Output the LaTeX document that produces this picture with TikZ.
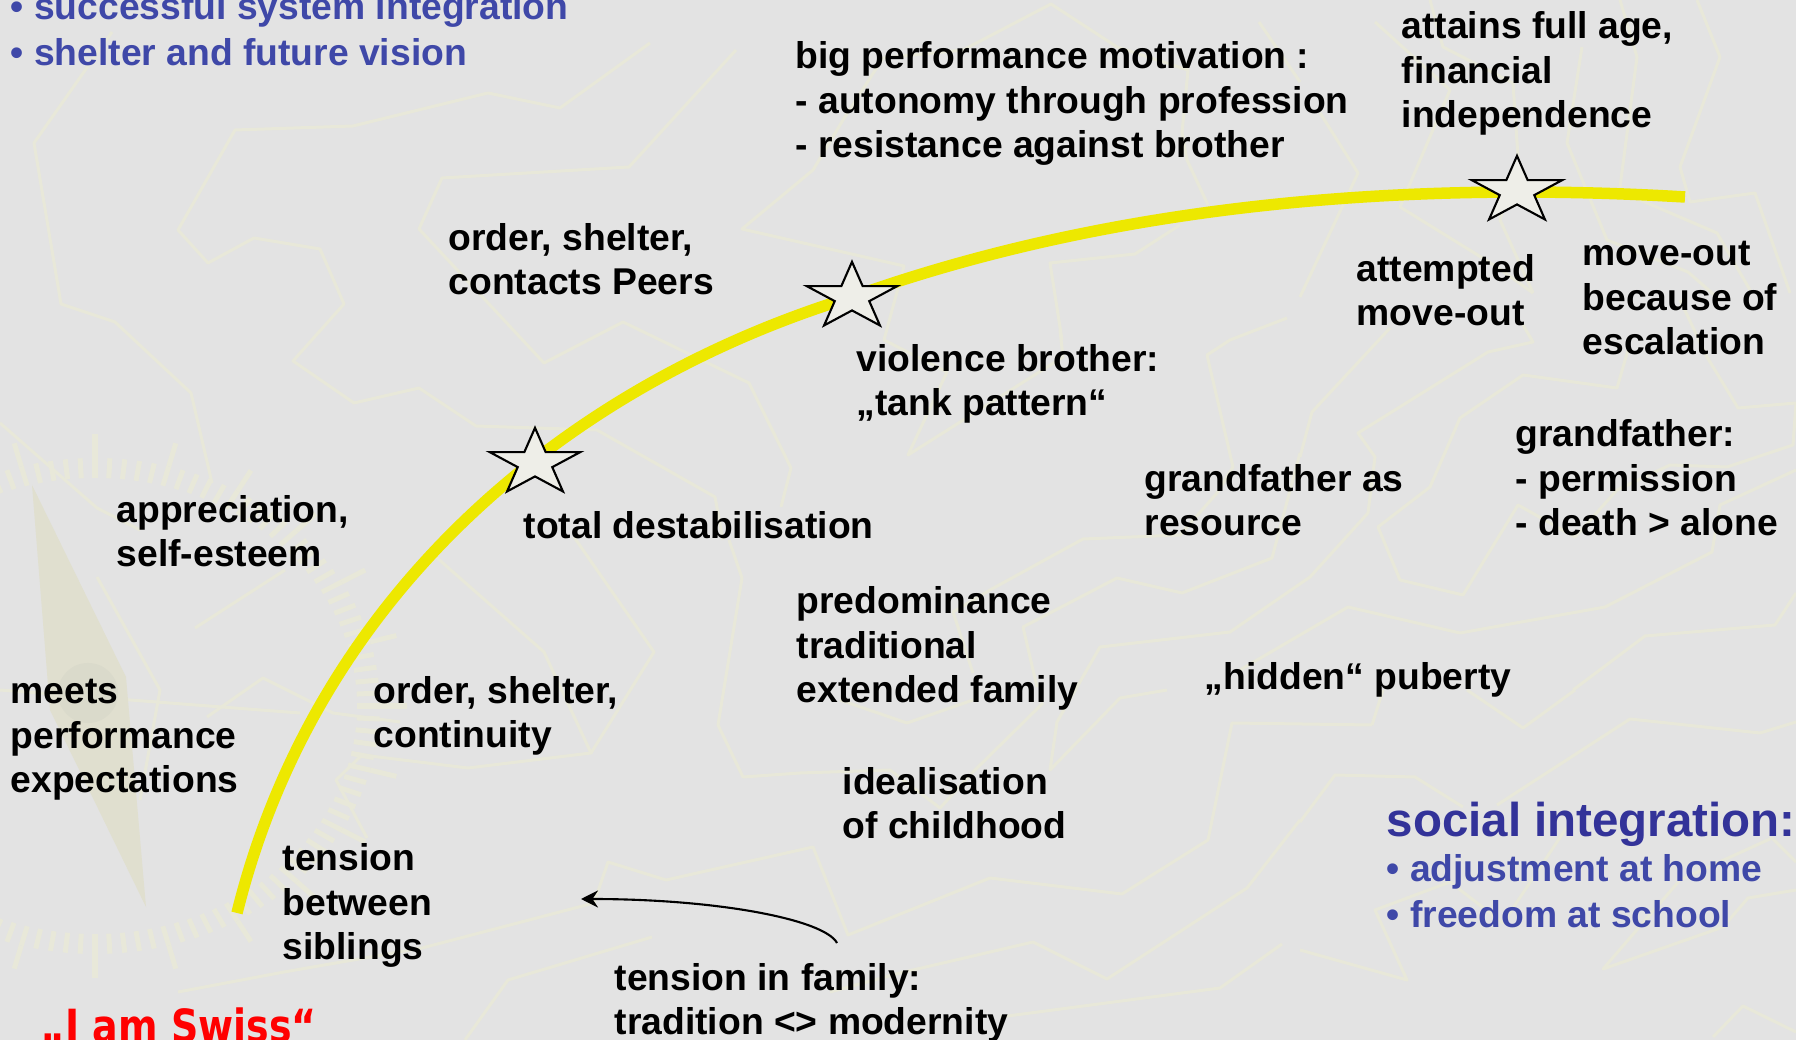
\documentclass[tikz,border=0pt]{standalone}
\usepackage{fontspec}
\setmainfont{Liberation Sans}
\newfontfamily\swissfont[FakeStretch=0.83]{DejaVu Sans}
\usepackage{xcolor}
\usetikzlibrary{shapes.geometric,arrows.meta,positioning}
\definecolor{slidegray}{RGB}{227,227,227}
\definecolor{mapbeige}{RGB}{232,232,217}
\definecolor{needlebeige}{RGB}{224,223,207}
\definecolor{hubbeige}{RGB}{218,218,203}
\definecolor{curveyellow}{RGB}{237,232,0}
\definecolor{starwhite}{RGB}{238,238,232}
\definecolor{bulletblue}{RGB}{63,72,168}
\definecolor{headblue}{RGB}{51,51,153}

\begin{document}
\begin{tikzpicture}[
    x=0.01cm, y=-0.01cm,
    note/.style={anchor=base west, align=left, inner sep=0pt, xshift=-0.01cm, yshift=-0.022cm, font=\fontsize{10.6}{12.55}\selectfont\bfseries},
    bluenote/.style={note, text=bulletblue},
    headnote/.style={note, text=headblue, font=\fontsize{13.5}{16}\selectfont\bfseries},
    swissnote/.style={note, text=red, font=\fontsize{13}{15}\selectfont\bfseries\swissfont},
    mapline/.style={draw=mapbeige, line width=0.03cm, line join=round},
    tick/.style={draw=mapbeige, line width=0.05cm},
    turnstar/.style={star, star points=5, star point ratio=2.618, draw=black, fill=starwhite, line width=0.6pt,
        minimum size=0.95cm, inner sep=0pt, yscale=0.74, transform shape},
    lifecurve/.style={draw=curveyellow, line width=0.115cm},
    arrow/.style={->, >={Stealth[length=0.17cm,width=0.17cm]}, line width=0.6pt}
]

\clip (0,0) rectangle (1796,1040);
\fill[slidegray] (0,0) rectangle (1796,1040);

% Map behind the text
\draw[mapline] (112,32) -- (34,143) -- (61,304) -- (115,322) -- (191,393) -- (212,483);
\draw[mapline] (650,43) -- (560,108) -- (488,93) -- (353,126) -- (235,130) -- (178,230) -- (208,263) -- (254,238) -- (320,249) -- (344,304) -- (293,361) -- (354,403) -- (419,388) -- (476,426) -- (597,430) -- (715,497) -- (723,540);
\draw[mapline] (736,50) -- (629,167) -- (442,178) -- (419,229) -- (544,363) -- (623,322) -- (749,383) -- (791,468) -- (781,507);
\draw[mapline] (1208,205) -- (1187,160) -- (1182,133) -- (1188,70) -- (1117,47) -- (1051,4) -- (963,50) -- (883,58) -- (843,120) -- (813,170) -- (742,229) -- (904,266) -- (884,340) -- (947,372) -- (908,455) -- (1063,357) -- (1060,330);
\draw[mapline] (1259,22) -- (1300,82);
\draw[mapline] (1180,225) -- (1135,254) -- (1050,263) -- (1062,340);
\draw[mapline] (1287,318) -- (1230,340) -- (1207,355) -- (1233,467) -- (1217,493) -- (1180,535) -- (1083,539) -- (990,590) -- (953,612) -- (973,673);
\draw[mapline] (1300,453) -- (1272,558) -- (1182,593) -- (1117,578) -- (1023,627) -- (1037,687);
\draw[mapline] (1390,328) -- (1312,412) -- (1300,457);
\draw[mapline] (1523,325) -- (1533,342) -- (1488,352) -- (1358,433) -- (1375,457) -- (1368,513) -- (1310,577) -- (1230,632) -- (1100,647) -- (1077,687);
\draw[mapline] (1628,350) -- (1617,388) -- (1523,375) -- (1460,418) -- (1430,487) -- (1378,527) -- (1400,580) -- (1463,595) -- (1518,505) -- (1575,537) -- (1617,490) -- (1670,465) -- (1727,467) -- (1793,445) -- (1796,403) -- (1738,408) -- (1707,357) -- (1680,300);
\draw[mapline] (1240,670) -- (1348,607) -- (1460,633) -- (1605,607) -- (1712,552) -- (1720,505) -- (1796,470);
\draw[mapline] (1573,690) -- (1645,636) -- (1775,625) -- (1796,593);
\draw[mapline] (840,700) -- (907,723) -- (973,700);
\draw[mapline] (1043,703) -- (973,772) -- (940,808) -- (890,770) -- (800,773) -- (743,777) -- (718,725) -- (742,578) -- (729,540);
\draw[mapline] (1167,690) -- (1120,698) -- (1050,770) -- (1057,722) -- (1077,687);
\draw[mapline] (1372,725) -- (1232,723) -- (1208,840) -- (1122,894) -- (990,878) -- (848,935) -- (813,847) -- (666,880) -- (608,862) -- (594,903) -- (422,948) -- (284,972) -- (178,992);
\draw[mapline] (1372,725) -- (1383,690);
\draw[mapline] (1300,820) -- (1247,888) -- (1107,979) -- (1033,942) -- (900,973) -- (830,992);
\draw[mapline] (1282,944) -- (1220,988) -- (1000,1017);
\draw[mapline] (1467,690) -- (1523,728) -- (1575,690);
\draw[mapline] (1300,822) -- (1335,775) -- (1415,777) -- (1463,807);
\draw[mapline] (1497,805) -- (1630,719) -- (1760,733) -- (1796,722);
\draw[mapline] (1300,950) -- (1407,980) -- (1375,910) -- (1450,882) -- (1503,923) -- (1567,827);
\draw[mapline] (1796,862) -- (1772,838) -- (1680,880) -- (1603,969) -- (1723,927) -- (1748,898) -- (1796,890);
\draw[mapline] (1713,1037) -- (1743,1006) -- (1796,1032);
\draw[mapline] (1375,22) -- (1450,90) -- (1400,207) -- (1497,267) -- (1533,293);
\draw[mapline] (1430,0) -- (1443,47) -- (1513,83) -- (1518,157) -- (1500,220) -- (1533,293);
\draw[mapline] (1620,0) -- (1637,57) -- (1620,187);
\draw[mapline] (1582,47) -- (1567,143) -- (1607,240) -- (1688,272) -- (1720,300);
\draw[mapline] (1697,0) -- (1720,57) -- (1680,167) -- (1690,202) -- (1755,193) -- (1790,293);
\draw[mapline] (1640,200) -- (1717,233) -- (1750,290);
\draw[mapline] (1320,113) -- (1358,173) -- (1300,297);
\draw[mapline] (436,557) -- (544,652) -- (591,753) -- (468,768) -- (362,755) -- (336,780) -- (367,838);
\draw[mapline] (574,537) -- (654,652) -- (591,753);
\draw[mapline] (652,937) -- (508,980) -- (465,1040);
\draw[mapline] (0,423) -- (97,508) -- (140,530);
\draw[mapline] (97,577) -- (160,690) -- (140,800);
\draw[mapline] (207,717) -- (263,678) -- (333,713) -- (400,722);
\draw[mapline] (0,690) -- (300,713);
\draw[mapline] (195,628) -- (285,570);

% Compass
\foreach \a in {0,3,...,357} {
    \draw[tick] ({95+262*cos(\a)},{706+228*sin(\a)}) -- ({95+285*cos(\a)},{706+248*sin(\a)});
}
\foreach \a in {0,15,...,345} {
    \draw[tick] ({95+285*cos(\a)},{706+248*sin(\a)}) -- ({95+312*cos(\a)},{706+272*sin(\a)});
}
\fill[needlebeige] (32,485) -- (126,677) -- (146,907) -- (50,710) -- cycle;
\fill[hubbeige] (88,693) circle (0.3cm);

% Curve and stars
\coordinate (curvestart) at (237,913);
\coordinate (turnviolence) at (852,297);
\coordinate (curveend) at (1685,197);
\draw[lifecurve] (curvestart) .. controls (315,598) and (562,386) .. (turnviolence)
    .. controls (1110,205) and (1400,180) .. (curveend);

\node[turnstar] (stardestab) at (535,463) {};
\node[turnstar] (starviolence) at (turnviolence) {};
\node[turnstar] (starage) at (1517,191) {};

% Top left
\node[bluenote] (system) at (11,17) {• successful system integration};
\node[bluenote] (vision) at (11,63) {• shelter and future vision};

% Along the top
\node[note] (motivation) at (796,155) {big performance motivation :\\- autonomy through profession\\- resistance against brother};
\node[note] (fullage) at (1402,125) {attains full age,\\financial\\independence};
\node[note] (peers) at (449,292) {order, shelter,\\contacts Peers};
\node[note] (attempted) at (1357,323) {attempted\\move-out};
\node[note] (moveout) at (1583,352) {move-out\\because of\\escalation};
\node[note] (violence) at (857,413) {violence brother:\\„tank pattern“};

% Middle
\node[note] (grandperm) at (1516,533) {grandfather:\\- permission\\- death > alone};
\node[note] (grandres) at (1145,533) {grandfather as\\resource};
\node[note] (destab) at (524,536) {total destabilisation};
\node[note] (esteem) at (117,564) {appreciation,\\self-esteem};
\node[note] (predom) at (797,700) {predominance\\traditional\\extended family};
\node[note] (puberty) at (1205,687) {„hidden“ puberty};
\node[note] (meets) at (11,790) {meets\\performance\\expectations};
\node[note] (continuity) at (374,745) {order, shelter,\\continuity};
\node[note] (childhood) at (843,836) {idealisation\\of childhood};

% Lower right
\node[headnote] (social) at (1387,834) {social integration:};
\node[bluenote] (home) at (1387,879) {• adjustment at home};
\node[bluenote] (school) at (1387,925) {• freedom at school};

% Bottom
\node[note] (siblings) at (283,957) {tension\\between\\siblings};
\node[note] (family) at (615,1032) {tension in family:\\tradition <> modernity};
\node[swissnote] (swiss) at (41,1040) {„I am Swiss“};

\coordinate (familytail) at (837,943);
\coordinate (siblingshead) at (581,899);
\draw[arrow] (familytail) .. controls (825,920) and (720,899) .. (siblingshead);

\end{tikzpicture}
\end{document}
